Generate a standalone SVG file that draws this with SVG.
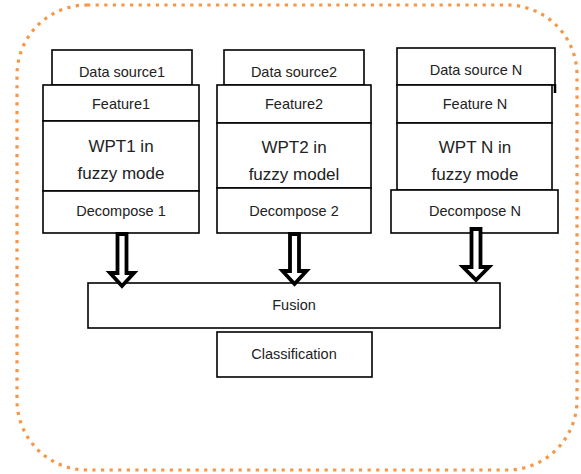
<svg xmlns="http://www.w3.org/2000/svg" width="581" height="474" viewBox="0 0 581 474">
<style>
.b{fill:#fff;stroke:#000;stroke-width:1.6}
.t{font-family:"Liberation Sans",Arial,sans-serif;font-size:14.5px;fill:#222;text-anchor:middle}
.m{font-size:17px}
.a{fill:#fff;stroke:#000;stroke-width:3.8;stroke-linejoin:miter}
</style>
<rect x="17" y="5" width="560" height="465" rx="70" ry="70" fill="none" stroke="#F79646" stroke-width="3.2" stroke-dasharray="3.2 5.4"/>
<g id="col1">
<rect class="b" x="52" y="50" width="140" height="35"/>
<text class="t" x="122" y="77">Data source1</text>
<rect class="b" x="43" y="85" width="156" height="36"/>
<text class="t" x="121" y="109">Feature1</text>
<rect class="b" x="43" y="121" width="156" height="70"/>
<text class="t m" x="121" y="152">WPT1 in</text>
<text class="t m" x="121" y="179">fuzzy mode</text>
<rect class="b" x="43" y="191" width="156" height="42"/>
<text class="t" x="121" y="216">Decompose 1</text>
</g>
<g id="col2">
<rect class="b" x="224" y="50" width="140" height="35"/>
<text class="t" x="294" y="77">Data source2</text>
<rect class="b" x="217" y="85" width="154" height="38"/>
<text class="t" x="294" y="109">Feature2</text>
<rect class="b" x="217" y="123" width="154" height="65"/>
<text class="t m" x="294" y="153">WPT2 in</text>
<text class="t m" x="294" y="180">fuzzy model</text>
<rect class="b" x="217" y="188" width="154" height="45"/>
<text class="t" x="294" y="216">Decompose 2</text>
</g>
<g id="colN">
<rect class="b" x="397" y="48" width="158" height="37"/>
<text class="t" x="476" y="75">Data source N</text>
<line x1="555" y1="84" x2="555" y2="93" stroke="#000" stroke-width="2.5"/>
<rect class="b" x="397" y="85" width="155" height="38"/>
<text class="t" x="475" y="109">Feature N</text>
<rect class="b" x="397" y="123" width="155" height="67"/>
<text class="t m" x="475" y="153">WPT N in</text>
<text class="t m" x="475" y="180">fuzzy mode</text>
<rect class="b" x="391" y="190" width="167" height="43"/>
<text class="t" x="475" y="216">Decompose N</text>
</g>
<g id="fusion">
<rect class="b" x="88" y="283" width="412" height="45"/>
<text class="t" x="294" y="310">Fusion</text>
</g>
<g id="classification">
<rect class="b" x="217" y="332" width="155" height="45"/>
<text class="t" x="294" y="359">Classification</text>
</g>
<g id="connectors">
<polygon class="a" points="117.5,234 126.5,234 126.5,273 134,273 122,286 110,273 117.5,273"/>
<polygon class="a" points="290,234 299,234 299,271 306.5,271 294.5,284 282.5,271 290,271"/>
<polygon class="a" points="471.5,229 480.5,229 480.5,267 489,267 476,280 463,267 471.5,267"/>
</g>
</svg>
